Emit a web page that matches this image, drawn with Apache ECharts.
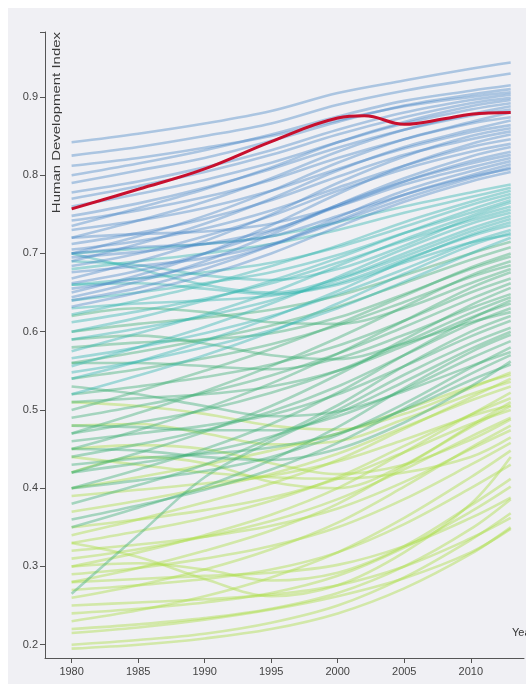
<!DOCTYPE html>
<html>
<head>
<meta charset="utf-8">
<script src="https://cdn.jsdelivr.net/npm/echarts@6/dist/echarts.min.js"></script>
<style>
html,body{margin:0;padding:0;background:#ffffff;}
#wrap{position:absolute;left:8px;top:8px;width:518px;height:676px;background:#f0f0f4;}
#chart{position:absolute;left:0;top:0;width:526px;height:686px;}
</style>
</head>
<body>
<div id="wrap"></div>
<div id="chart"></div>
<script>
// ---- data ----
const years = [1980, 1985, 1990, 1995, 2000, 2005, 2010, 2013];
const yTickValues = [0.2, 0.3, 0.4, 0.5, 0.6, 0.7, 0.8, 0.9];
const xTickValues = [1980, 1985, 1990, 1995, 2000, 2005, 2010];

const highlightYears  = [1980, 1985, 1990, 1995, 2000, 2002, 2005, 2008, 2010, 2013];
const highlightValues = [0.757, 0.782, 0.808, 0.843, 0.873, 0.876, 0.865, 0.872, 0.878, 0.880];

// very high human development (2013 >= 0.80)
const veryHighBand = [
  [.842,.853,.866,.882,.905,.921,.936,.944],
  [.825,.836,.850,.866,.890,.908,.922,.930],
  [.800,.815,.832,.852,.875,.895,.908,.915],
  [.790,.806,.822,.844,.868,.889,.903,.910],
  [.812,.822,.835,.850,.870,.888,.900,.906],
  [.778,.792,.810,.832,.858,.880,.896,.903],
  [.770,.786,.804,.826,.852,.874,.892,.899],
  [.735,.758,.782,.810,.842,.868,.888,.896],
  [.760,.776,.794,.816,.842,.866,.884,.892],
  [.720,.742,.766,.796,.830,.858,.878,.888],
  [.748,.764,.784,.808,.835,.858,.876,.884],
  [.700,.722,.748,.780,.816,.846,.868,.880],
  [.742,.755,.772,.794,.822,.846,.866,.874],
  [.690,.712,.738,.770,.806,.836,.858,.870],
  [.730,.742,.758,.780,.808,.834,.855,.864],
  [.668,.690,.716,.750,.790,.824,.850,.860],
  [.712,.726,.744,.768,.798,.826,.846,.856],
  [.650,.672,.700,.736,.776,.812,.840,.852],
  [.705,.716,.732,.755,.784,.812,.836,.846],
  [.684,.700,.722,.748,.780,.808,.830,.840],
  [.644,.664,.690,.724,.762,.796,.824,.836],
  [.695,.702,.712,.730,.760,.792,.818,.830],
  [.662,.678,.700,.728,.762,.792,.815,.826],
  [.720,.725,.728,.738,.760,.788,.810,.822],
  [.640,.656,.680,.710,.746,.780,.805,.818],
  [.676,.684,.694,.712,.742,.775,.800,.814],
  [.655,.668,.686,.710,.740,.770,.796,.810],
  [.700,.708,.712,.722,.748,.775,.798,.808],
  [.632,.650,.672,.700,.734,.766,.792,.804]
];

// high human development (0.70 - 0.80)
const highBand = [
  [.700,.706,.712,.722,.740,.760,.778,.788],
  [.680,.690,.700,.712,.730,.752,.772,.784],
  [.622,.640,.660,.684,.710,.740,.766,.780],
  [.660,.668,.676,.688,.708,.734,.762,.776],
  [.600,.618,.640,.665,.694,.726,.756,.772],
  [.640,.650,.662,.676,.698,.726,.752,.768],
  [.575,.598,.622,.650,.684,.718,.748,.765],
  [.690,.685,.672,.666,.680,.710,.745,.760],
  [.612,.626,.642,.662,.688,.716,.742,.756],
  [.556,.580,.606,.636,.670,.706,.738,.752],
  [.700,.680,.660,.650,.668,.700,.732,.748],
  [.590,.604,.620,.640,.666,.696,.728,.744],
  [.540,.562,.588,.618,.652,.690,.724,.740],
  [.630,.636,.640,.646,.662,.692,.722,.736],
  [.566,.580,.598,.620,.648,.680,.714,.730],
  [.520,.544,.570,.600,.636,.674,.710,.726],
  [.660,.662,.655,.648,.660,.688,.714,.724],
  [.548,.562,.580,.602,.630,.664,.700,.720]
];

// medium human development (0.55 - 0.70)
const mediumBand = [
  [.600,.610,.618,.628,.646,.672,.700,.715],
  [.560,.574,.590,.608,.632,.662,.692,.708],
  [.500,.524,.550,.578,.610,.646,.682,.700],
  [.580,.586,.590,.598,.618,.648,.680,.696],
  [.470,.496,.524,.556,.592,.632,.672,.690],
  [.540,.552,.566,.584,.608,.638,.670,.685],
  [.620,.630,.625,.612,.610,.630,.662,.680],
  [.450,.474,.502,.534,.572,.614,.656,.676],
  [.520,.530,.542,.558,.582,.614,.650,.668],
  [.490,.505,.522,.544,.572,.606,.642,.662],
  [.420,.445,.472,.505,.545,.590,.634,.656],
  [.560,.560,.556,.552,.566,.596,.630,.648],
  [.470,.484,.500,.522,.550,.586,.624,.644],
  [.400,.424,.450,.482,.522,.570,.616,.640],
  [.510,.515,.520,.530,.550,.582,.618,.636],
  [.440,.456,.474,.498,.530,.570,.610,.630],
  [.590,.595,.585,.570,.565,.585,.612,.625],
  [.380,.404,.430,.464,.506,.556,.600,.620],
  [.460,.470,.480,.494,.520,.556,.594,.614],
  [.265,.340,.414,.460,.500,.545,.585,.605],
  [.420,.432,.446,.466,.496,.536,.578,.600],
  [.350,.375,.402,.436,.478,.528,.574,.596],
  [.480,.478,.474,.474,.492,.526,.566,.588],
  [.400,.410,.422,.440,.468,.508,.554,.580],
  [.530,.520,.505,.492,.498,.524,.556,.574],
  [.360,.378,.398,.424,.458,.502,.546,.570],
  [.450,.448,.440,.436,.450,.484,.530,.562],
  [.430,.438,.444,.452,.470,.500,.538,.558]
];

// low human development (< 0.55)
const lowBand = [
  [.510,.505,.495,.480,.475,.495,.528,.548],
  [.400,.414,.430,.448,.470,.500,.530,.545],
  [.340,.360,.382,.406,.436,.476,.516,.540],
  [.480,.482,.470,.456,.460,.488,.520,.536],
  [.370,.384,.400,.418,.444,.478,.512,.530],
  [.300,.318,.340,.366,.400,.446,.494,.522],
  [.420,.440,.432,.408,.400,.430,.480,.510],
  [.330,.345,.362,.384,.414,.454,.494,.515],
  [.280,.298,.320,.346,.380,.428,.478,.505],
  [.390,.398,.406,.416,.434,.462,.492,.506],
  [.350,.360,.372,.388,.412,.446,.482,.500],
  [.450,.455,.450,.432,.418,.430,.462,.488],
  [.310,.322,.338,.358,.386,.424,.466,.490],
  [.260,.276,.296,.322,.356,.402,.452,.480],
  [.320,.328,.338,.352,.374,.408,.450,.474],
  [.440,.430,.420,.414,.412,.420,.440,.465],
  [.290,.298,.310,.326,.350,.386,.430,.458],
  [.230,.244,.262,.286,.318,.362,.414,.448],
  [.330,.312,.284,.262,.276,.318,.380,.440],
  [.270,.276,.284,.296,.318,.354,.400,.430],
  [.300,.304,.296,.282,.292,.326,.378,.412],
  [.240,.246,.254,.266,.288,.324,.370,.402],
  [.220,.226,.234,.246,.266,.300,.348,.386],
  [.280,.284,.288,.292,.302,.326,.362,.388],
  [.200,.206,.214,.228,.250,.286,.334,.368],
  [.250,.254,.258,.264,.276,.300,.336,.362],
  [.215,.222,.232,.245,.262,.285,.318,.348],
  [.195,.200,.208,.220,.240,.272,.316,.350]
];

// ---- styling ----
const bandColors = {
  low: '#aede4c',
  medium: '#3cae72',
  high: '#2fb5ad',
  veryHigh: '#4384c6'
};

function makeSeries(rows, color, opacity) {
  return rows.map(row => ({
    type: 'line',
    data: row.map((v, i) => [years[i], v]),
    smooth: 0.35,
    showSymbol: false,
    silent: true,
    lineStyle: { width: 2.6, color: color, opacity: opacity },
    z: 2
  }));
}

const series = [].concat(
  makeSeries(lowBand, bandColors.low, 0.45),
  makeSeries(mediumBand, bandColors.medium, 0.42),
  makeSeries(highBand, bandColors.high, 0.42),
  makeSeries(veryHighBand, bandColors.veryHigh, 0.40)
);
series.push({
  type: 'line',
  data: highlightValues.map((v, i) => [highlightYears[i], v]),
  smooth: 0.4,
  showSymbol: false,
  silent: true,
  lineStyle: { width: 3, color: '#c8102e', opacity: 1 },
  z: 5
});

const labelFont = "'Liberation Sans Narrow', 'Arial Narrow', sans-serif";

const chart = echarts.init(document.getElementById('chart'), null, { renderer: 'canvas' });
chart.setOption({
  animation: false,
  backgroundColor: 'transparent',
  grid: { left: 45, right: 2, top: 32, bottom: 28, containLabel: false },
  xAxis: {
    type: 'value',
    min: 1978, max: 2014,
    splitLine: { show: false },
    axisLine: { show: true, onZero: false, lineStyle: { color: '#555', width: 1 } },
    axisTick: { show: true, length: 5, customValues: xTickValues, lineStyle: { color: '#555' } },
    axisLabel: {
      customValues: xTickValues, color: '#444', fontSize: 11, fontFamily: labelFont, margin: 8,
      formatter: v => String(v)
    }
  },
  yAxis: {
    type: 'value',
    min: 0.183, max: 0.983,
    splitLine: { show: false },
    axisLine: { show: true, onZero: false, lineStyle: { color: '#555', width: 1 } },
    axisTick: { show: true, length: 5, customValues: yTickValues.concat([0.983]), lineStyle: { color: '#555' } },
    axisLabel: {
      customValues: yTickValues, color: '#444', fontSize: 11, fontFamily: labelFont, margin: 7,
      formatter: v => v.toFixed(1)
    }
  },
  graphic: [
    {
      type: 'text',
      x: 51, y: 32,
      rotation: Math.PI / 2,
      scaleX: 1.3,
      style: {
        text: 'Human Development Index',
        fontSize: 11.5,
        fontFamily: 'Liberation Sans, Arial, sans-serif',
        fill: '#3a3a3a',
        align: 'right',
        verticalAlign: 'top'
      },
      z: 10
    },
    {
      type: 'text',
      x: 512, y: 627,
      style: {
        text: 'Year',
        fontSize: 11,
        fontFamily: labelFont,
        fill: '#333',
        align: 'left',
        verticalAlign: 'top'
      },
      z: 10
    }
  ],
  series: series
});
</script>
</body>
</html>
